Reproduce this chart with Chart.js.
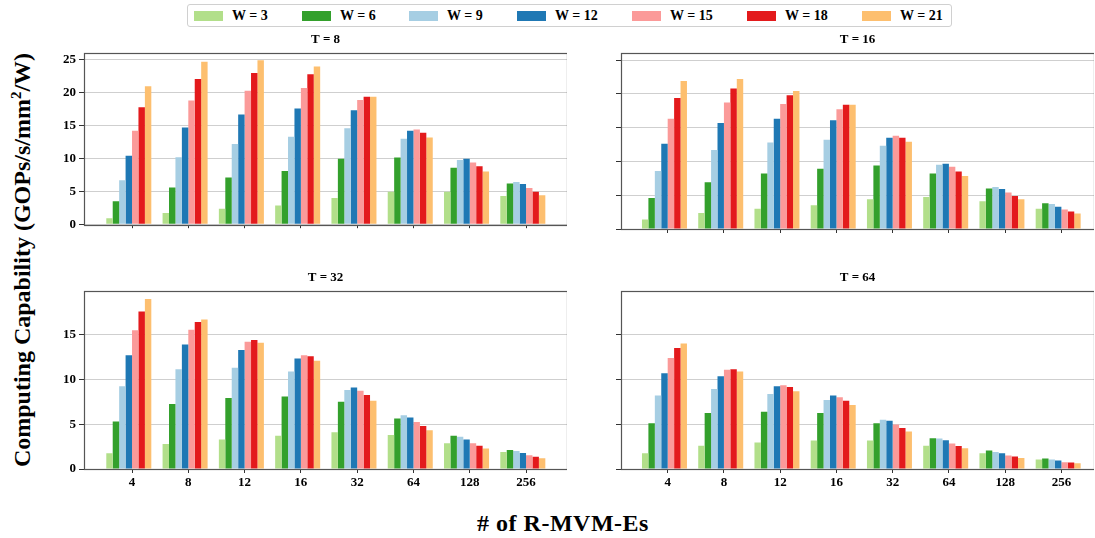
<!DOCTYPE html>
<html>
<head>
<meta charset="utf-8">
<script src="https://cdn.jsdelivr.net/npm/chart.js@4.4.0/dist/chart.umd.min.js"></script>
<style>
  body { margin: 0; width: 1095px; height: 538px; background: #fff; position: relative; overflow: hidden;
         font-family: 'Liberation Serif', 'Times New Roman', serif; }
  .panel { position: absolute; }
  #legend { position: absolute; left: 187px; top: 4px; width: 765px; height: 23px;
            border: 1px solid #d0d0d0; border-radius: 3px; box-sizing: border-box; }
  .item { position: absolute; top: 0; height: 21px; display: flex; align-items: center;
          font-weight: bold; font-size: 14px; color: #000; }
  .sw { width: 29px; height: 10px; margin-right: 9px; }
  #ylabel { position: absolute; left: 22px; top: 260px; transform: translate(-50%, -50%) rotate(-90deg);
            white-space: nowrap; font-weight: bold; font-size: 24px; }
  #xlabel { position: absolute; left: 563px; top: 523px; transform: translate(-50%, -50%);
            white-space: nowrap; font-weight: bold; font-size: 24px; letter-spacing: 0.5px; }
</style>
</head>
<body>
<div id="legend"></div>
<div id="ylabel">Computing Capability (GOPs/s/mm<sup style="font-size:15px">2</sup>/W)</div>
<div id="xlabel"># of R-MVM-Es</div>
<div class="panel" style="left:48px;top:32px;width:519px;height:203px"><canvas id="c8"></canvas></div>
<div class="panel" style="left:615px;top:32px;width:479px;height:203px"><canvas id="c16"></canvas></div>
<div class="panel" style="left:48px;top:270px;width:519px;height:223px"><canvas id="c32"></canvas></div>
<div class="panel" style="left:615px;top:270px;width:479px;height:223px"><canvas id="c64"></canvas></div>
<script>
var categories = ['4', '8', '12', '16', '32', '64', '128', '256'];
var seriesNames = ['W = 3', 'W = 6', 'W = 9', 'W = 12', 'W = 15', 'W = 18', 'W = 21'];
var colors = ['#b2df8a', '#33a02c', '#a6cee3', '#1f78b4', '#fb9a99', '#e31a1c', '#fdbf6f'];

// rows: W = 3 ... W = 21, columns: categories
var t8 = [
    [0.9, 1.7, 2.35, 2.85, 4.0, 4.95, 4.95, 4.3],
    [3.5, 5.6, 7.1, 8.1, 9.95, 10.15, 8.6, 6.2],
    [6.7, 10.2, 12.2, 13.3, 14.6, 13.0, 9.75, 6.4],
    [10.4, 14.7, 16.7, 17.6, 17.35, 14.2, 9.95, 6.1],
    [14.2, 18.8, 20.3, 20.7, 18.9, 14.4, 9.4, 5.5],
    [17.8, 22.1, 23.0, 22.8, 19.4, 13.9, 8.8, 4.95],
    [21.0, 24.7, 24.95, 24.0, 19.4, 13.2, 8.0, 4.4]
];
var t16 = [
    [1.4, 2.35, 3.0, 3.5, 4.4, 4.75, 4.1, 3.0],
    [4.6, 6.9, 8.2, 8.9, 9.4, 8.2, 6.0, 3.8],
    [8.6, 11.7, 12.8, 13.2, 12.3, 9.5, 6.2, 3.7],
    [12.6, 15.7, 16.3, 16.1, 13.5, 9.65, 5.9, 3.3],
    [16.3, 18.7, 18.5, 17.7, 13.8, 9.2, 5.4, 2.9],
    [19.4, 20.8, 19.8, 18.4, 13.5, 8.5, 4.9, 2.6],
    [21.9, 22.2, 20.4, 18.4, 12.9, 7.85, 4.4, 2.3]
];
var t32 = [
    [1.76, 2.8, 3.3, 3.7, 4.1, 3.8, 2.88, 1.9],
    [5.3, 7.26, 7.93, 8.1, 7.5, 5.65, 3.7, 2.13],
    [9.24, 11.15, 11.3, 10.9, 8.83, 6.0, 3.6, 2.0],
    [12.7, 13.9, 13.3, 12.35, 9.1, 5.76, 3.3, 1.8],
    [15.5, 15.56, 14.2, 12.7, 8.75, 5.24, 2.88, 1.53],
    [17.6, 16.4, 14.4, 12.6, 8.27, 4.8, 2.6, 1.38],
    [18.97, 16.7, 14.1, 12.1, 7.63, 4.34, 2.28, 1.2]
];
var t64 = [
    [1.76, 2.6, 2.96, 3.18, 3.18, 2.6, 1.76, 1.05],
    [5.1, 6.25, 6.4, 6.25, 5.1, 3.44, 2.06, 1.16],
    [8.2, 8.94, 8.38, 7.7, 5.5, 3.4, 1.9, 1.05],
    [10.7, 10.36, 9.24, 8.2, 5.4, 3.2, 1.76, 0.94],
    [12.4, 11.07, 9.35, 8.0, 4.98, 2.84, 1.5, 0.76],
    [13.5, 11.15, 9.17, 7.63, 4.57, 2.58, 1.4, 0.73],
    [14.0, 10.9, 8.68, 7.15, 4.2, 2.32, 1.23, 0.65]
];

var font = 'Liberation Serif';

// html legend
var legendX = [6, 114, 221, 329, 444, 559, 674];
var legend = document.getElementById('legend');
seriesNames.forEach(function (name, i) {
    var el = document.createElement('div');
    el.className = 'item';
    el.style.left = legendX[i] + 'px';
    el.innerHTML = '<span class="sw" style="background:' + colors[i] + '"></span>' + name;
    legend.appendChild(el);
});

var framePlugin = {
    id: 'frame',
    afterDatasetsDraw: function (chart) {
        var a = chart.chartArea, ctx = chart.ctx;
        ctx.save();
        ctx.strokeStyle = '#555';
        ctx.lineWidth = 1.2;
        ctx.strokeRect(Math.round(a.left) + 0.5, Math.round(a.top) + 0.5,
            Math.round(a.right - a.left), Math.round(a.bottom - a.top));
        ctx.restore();
    }
};

function makeChart(id, title, values, opts) {
    var datasets = values.map(function (row, i) {
        return {
            label: seriesNames[i],
            backgroundColor: colors[i],
            borderWidth: 0,
            data: row.map(function (v, j) { return { x: j - 0.057, y: v }; })
        };
    });
    var ctx = document.getElementById(id).getContext('2d');
    return new Chart(ctx, {
        type: 'bar',
        data: { datasets: datasets },
        options: {
            responsive: true,
            maintainAspectRatio: false,
            animation: false,
            categoryPercentage: 0.8,
            barPercentage: 1.0,
            layout: { padding: 0 },
            plugins: {
                legend: { display: false },
                tooltip: { enabled: false },
                title: {
                    display: true, text: title, fullSize: false, color: '#000',
                    font: { family: font, size: 13, weight: 'bold' },
                    padding: { top: 0, bottom: 5 }
                }
            },
            scales: {
                x: {
                    type: 'linear', min: opts.xmin, max: opts.xmax, offset: false,
                    afterBuildTicks: function (s) {
                        s.ticks = categories.map(function (c, i) { return { value: i }; });
                    },
                    afterFit: function (s) { s.height = opts.xh; },
                    grid: { drawOnChartArea: false, drawTicks: true, tickLength: 4, tickColor: '#333', offset: false },
                    border: { display: false },
                    ticks: {
                        display: opts.xlabels, color: '#000', padding: 2, maxRotation: 0, autoSkip: false,
                        font: { family: font, size: 13, weight: 'bold' },
                        callback: function (v) { return categories[v]; }
                    }
                },
                y: {
                    min: 0, max: opts.ymax,
                    afterBuildTicks: function (s) {
                        var t = [];
                        for (var v = 0; v <= opts.ymax; v += 5) t.push({ value: v });
                        s.ticks = t;
                    },
                    afterFit: function (s) { s.width = opts.yw; },
                    grid: { color: '#cfcfcf', lineWidth: 1, tickLength: 5, tickColor: '#333' },
                    border: { display: false },
                    ticks: {
                        display: opts.ylabels, color: '#000', padding: 3,
                        font: { family: font, size: 13, weight: 'bold' }
                    }
                }
            }
        },
        plugins: [framePlugin]
    });
}

makeChart('c8', 'T = 8', t8, { xmin: -0.853, xmax: 7.728, ymax: 26.1, xh: 6, yw: 36, xlabels: false, ylabels: true });
makeChart('c16', 'T = 16', t16, { xmin: -0.83, xmax: 7.58, ymax: 26.1, xh: 6, yw: 6, xlabels: false, ylabels: false });
makeChart('c32', 'T = 32', t32, { xmin: -0.853, xmax: 7.728, ymax: 19.92, xh: 24, yw: 36, xlabels: true, ylabels: true });
makeChart('c64', 'T = 64', t64, { xmin: -0.83, xmax: 7.58, ymax: 19.92, xh: 24, yw: 6, xlabels: true, ylabels: false });
</script>
</body>
</html>
